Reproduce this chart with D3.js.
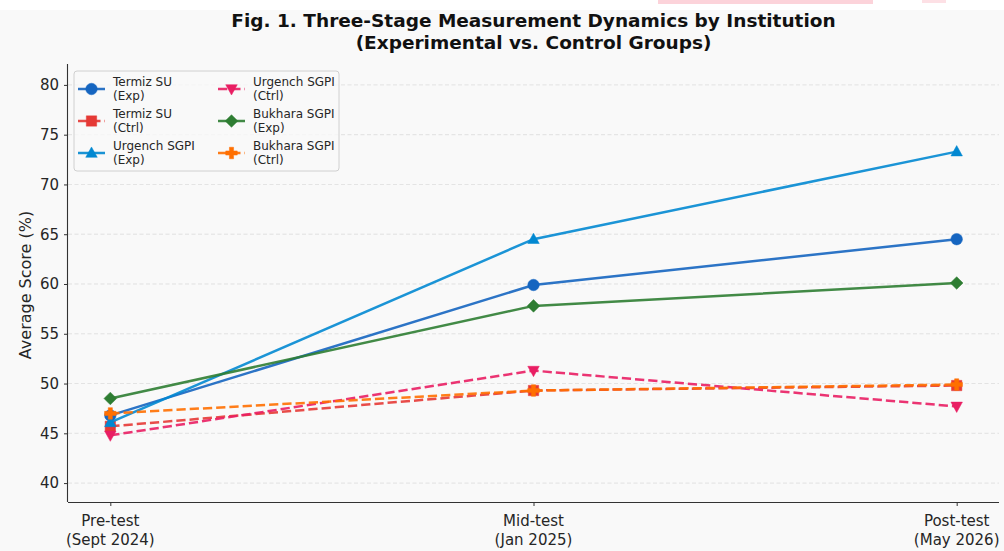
<!DOCTYPE html>
<html><head><meta charset="utf-8">
<script src="https://cdn.jsdelivr.net/npm/d3@7"></script>
<style>html,body{margin:0;padding:0;background:#f9f9f9;}svg{display:block;}</style>
</head><body>
<svg id="c" width="1004" height="551"></svg>
<script>
const stages = ["Pre-test\n(Sept 2024)", "Mid-test\n(Jan 2025)", "Post-test\n(May 2026)"];
const seriesNames = ["Termiz SU\n(Exp)", "Termiz SU\n(Ctrl)", "Urgench SGPI\n(Exp)", "Urgench SGPI\n(Ctrl)", "Bukhara SGPI\n(Exp)", "Bukhara SGPI\n(Ctrl)"];
const termizExp    = [46.8, 59.9, 64.5];
const termizCtrl   = [45.7, 49.3, 49.8];
const urgenchExp   = [46.1, 64.5, 73.3];
const urgenchCtrl  = [44.8, 51.3, 47.7];
const bukharaExp   = [48.5, 57.8, 60.1];
const bukharaCtrl  = [47.0, 49.3, 49.9];
const yTicks = [40, 45, 50, 55, 60, 65, 70, 75, 80];
const titleLines = ["Fig. 1. Three-Stage Measurement Dynamics by Institution", "(Experimental vs. Control Groups)"];
const yLabel = "Average Score (%)";

const allSeries = [termizExp, termizCtrl, urgenchExp, urgenchCtrl, bukharaExp, bukharaCtrl];
const colors = ["#1565C0", "#E53935", "#0288D1", "#E91E63", "#2E7D32", "#FF6F00"];
const markers = ["circle", "square", "triangle", "triangleDown", "diamond", "plus"];
const dashed = [false, true, false, true, false, true];

const svg = d3.select("#c");
const W = 1004, H = 551;
svg.append("rect").attr("width", W).attr("height", H).attr("fill", "#f9f9f9");
// top strip of the page above the figure
svg.append("rect").attr("x", 0).attr("y", 0).attr("width", W).attr("height", 10).attr("fill", "#ffffff");
svg.append("rect").attr("x", 658).attr("y", 0).attr("width", 215).attr("height", 4).attr("fill", "#fcd3da");
svg.append("rect").attr("x", 922).attr("y", 0).attr("width", 24).attr("height", 3).attr("fill", "#fde0e5");

const L = 68, R = 999, T = 64, B = 502;
const x = d3.scaleLinear().domain([-0.1, 2.1]).range([L, R]);
const y = d3.scaleLinear().domain([38.1, 82.1]).range([B, T]);

const font = "'DejaVu Sans', sans-serif";

// grid
svg.append("g").selectAll("line").data(yTicks).join("line")
  .attr("x1", L).attr("x2", R).attr("y1", d => y(d)).attr("y2", d => y(d))
  .attr("stroke", "#d6d6d6").attr("stroke-width", 0.8).attr("stroke-dasharray", "4,2.5").attr("opacity", 0.8);

// axes
const yAxis = d3.axisLeft(y).tickValues(yTicks).tickSize(4).tickPadding(5);
const gy = svg.append("g").attr("transform", `translate(${L},0)`).call(yAxis);
gy.select(".domain").attr("d", `M-0.5,${T}V${B}`).attr("stroke", "#333").attr("stroke-width", 1.1);
gy.selectAll(".tick line").attr("stroke", "#333");
gy.selectAll(".tick text").attr("font-family", font).attr("font-size", 15).attr("fill", "#262626");

const xAxis = d3.axisBottom(x).tickValues([0, 1, 2]).tickSize(4).tickFormat(() => "");
const gx = svg.append("g").attr("transform", `translate(0,${B})`).call(xAxis);
gx.select(".domain").attr("d", `M${L},0.5H${R}`).attr("stroke", "#333").attr("stroke-width", 1.1);
gx.selectAll(".tick line").attr("stroke", "#333");
stages.forEach((s, i) => {
  const t = svg.append("text").attr("x", x(i)).attr("y", B + 24).attr("text-anchor", "middle")
    .attr("font-family", font).attr("font-size", 15).attr("fill", "#262626");
  s.split("\n").forEach((ln, j) => t.append("tspan").attr("x", x(i)).attr("dy", j === 0 ? 0 : 19).text(ln));
});

svg.append("text").attr("transform", `translate(31,${(T + B) / 2 + 2}) rotate(-90)`).attr("text-anchor", "middle")
  .attr("font-family", font).attr("font-size", 16).attr("fill", "#262626").text(yLabel);

titleLines.forEach((t, i) => {
  svg.append("text").attr("x", (L + R) / 2).attr("y", 27 + i * 22).attr("text-anchor", "middle")
    .attr("font-family", font).attr("font-weight", "bold").attr("font-size", 18.5).attr("fill", "#111").text(t);
});

function markerPath(type, s) {
  const r = s / 2;
  switch (type) {
    case "circle": return d3.symbol(d3.symbolCircle, Math.PI * r * r)();
    case "square": return `M${-r * 0.9},${-r * 0.9}H${r * 0.9}V${r * 0.9}H${-r * 0.9}Z`;
    case "triangle": return `M0,${-r * 1.05}L${r},${r * 0.75}L${-r},${r * 0.75}Z`;
    case "triangleDown": return `M0,${r * 1.05}L${r},${-r * 0.75}L${-r},${-r * 0.75}Z`;
    case "diamond": return `M0,${-r * 1.1}L${r * 1.1},0L0,${r * 1.1}L${-r * 1.1},0Z`;
    case "plus": { const a = r, b = r * 0.36; return `M${-b},${-a}H${b}V${-b}H${a}V${b}H${b}V${a}H${-b}V${b}H${-a}V${-b}H${-b}Z`; }
  }
}

const line = d3.line().x((d, i) => x(i)).y(d => y(d));
const plot = svg.append("g");
allSeries.forEach((vals, k) => {
  const g = plot.append("g");
  g.append("path").attr("d", line(vals)).attr("fill", "none").attr("stroke", colors[k])
    .attr("stroke-width", 2.5).attr("opacity", 0.9)
    .attr("stroke-dasharray", dashed[k] ? "9.25,4" : null);
  g.selectAll("path.m").data(vals).join("path").attr("class", "m")
    .attr("transform", (d, i) => `translate(${x(i)},${y(d)})`)
    .attr("d", markerPath(markers[k], 11.5)).attr("fill", colors[k]).attr("stroke", colors[k]).attr("stroke-width", 0.5);
});

// legend
const lg = svg.append("g");
lg.append("rect").attr("x", 74).attr("y", 71).attr("width", 265).attr("height", 100).attr("rx", 3)
  .attr("fill", "#f9f9f9").attr("fill-opacity", 0.8).attr("stroke", "#d0d0d0").attr("stroke-width", 1);
seriesNames.forEach((name, k) => {
  const col = Math.floor(k / 3), row = k % 3;
  const hx = 78 + col * 140, cy = 89 + row * 32;
  const g = lg.append("g");
  g.append("line").attr("x1", hx).attr("x2", hx + 27).attr("y1", cy).attr("y2", cy)
    .attr("stroke", colors[k]).attr("stroke-width", 2.5).attr("opacity", 0.9)
    .attr("stroke-dasharray", dashed[k] ? "9.25,4" : null);
  g.append("path").attr("transform", `translate(${hx + 13.5},${cy})`).attr("d", markerPath(markers[k], 11.5))
    .attr("fill", colors[k]).attr("stroke", colors[k]).attr("stroke-width", 0.5);
  const t = g.append("text").attr("x", hx + 35).attr("y", cy - 3).attr("font-family", font)
    .attr("font-size", 12).attr("fill", "#262626");
  name.split("\n").forEach((ln, j) => t.append("tspan").attr("x", hx + 35).attr("dy", j === 0 ? 0 : 14).text(ln));
});
</script>
</body></html>
